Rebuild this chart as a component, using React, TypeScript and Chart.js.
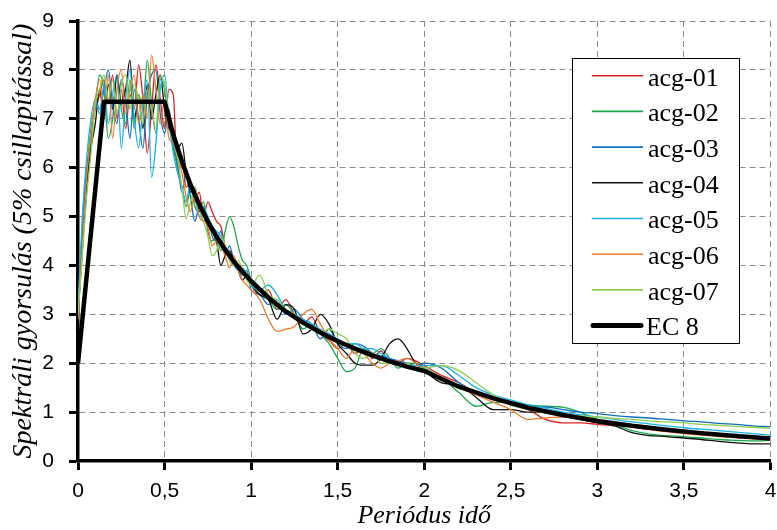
import React, { useEffect, useRef } from "react";
import { Chart, registerables } from "chart.js";

Chart.register(...registerables);

// Period values (s) at which the record spectra are sampled
const periods = [
  0, 0.025, 0.05, 0.075, 0.1, 0.125, 0.15, 0.175, 0.2, 0.225, 0.25, 0.275, 0.3, 0.325, 0.35, 0.375,
  0.4, 0.425, 0.45, 0.475, 0.5, 0.525, 0.55, 0.575, 0.6, 0.625, 0.65, 0.675, 0.7, 0.725, 0.75, 0.775,
  0.8, 0.825, 0.85, 0.875, 0.9, 0.925, 0.95, 0.975, 1.0,
  1.05, 1.1, 1.15, 1.2, 1.25, 1.3, 1.35, 1.4, 1.45, 1.5, 1.55, 1.6, 1.65, 1.7, 1.75, 1.8, 1.85, 1.9, 1.95, 2.0,
  2.1, 2.2, 2.3, 2.4, 2.5, 2.6, 2.7, 2.8, 2.9, 3.0, 3.1, 3.2, 3.3, 3.4, 3.5, 3.6, 3.7, 3.8, 3.9, 4.0,
];

const acg01 = [
  3.0, 4.3, 5.7, 6.6, 7.2, 7.5, 7.8, 7.3, 7.9, 7.0, 7.6, 6.8, 7.5, 7.2, 8.1, 7.4,
  6.3, 7.2, 8.1, 7.4, 6.8, 7.6, 7.5, 5.9, 6.2, 5.6, 5.7, 5.3, 5.5, 5.0, 5.3, 5.1,
  4.9, 4.8, 4.4, 4.2, 4.0, 4.0, 3.9, 3.8, 3.6,
  3.4, 3.5, 3.1, 3.3, 3.0, 2.8, 2.95, 2.6, 2.47, 2.3, 2.4, 2.2, 2.3, 2.1, 2.25, 2.0, 2.0, 2.1, 2.05, 1.95,
  1.75, 1.6, 1.4, 1.3, 1.15, 1.05, 0.85, 0.78, 0.78, 0.75, 0.72, 0.7, 0.65, 0.62, 0.58, 0.55, 0.52, 0.5, 0.48, 0.46,
];

const acg02 = [
  3.0, 4.5, 5.9, 6.8, 7.3, 7.9, 7.6, 6.6, 7.0, 7.9, 7.2, 6.9, 7.8, 6.8, 7.5, 7.2,
  8.2, 7.3, 6.7, 7.8, 7.6, 6.9, 6.4, 6.0, 5.6, 5.2, 5.6, 5.2, 5.1, 5.3, 4.7, 4.5,
  4.6, 4.3, 4.7, 5.0, 4.8, 4.4, 4.1, 4.0, 3.7,
  3.4, 3.3, 3.1, 3.2, 3.0, 2.7, 2.8, 2.6, 2.4, 2.1, 1.83, 1.9, 2.3, 2.2, 2.3, 2.1, 1.9, 2.0, 2.0, 1.9,
  1.7, 1.4, 1.12, 1.2, 1.2, 1.15, 1.12, 1.1, 1.0, 0.85, 0.75, 0.62, 0.55, 0.52, 0.5, 0.47, 0.44, 0.42, 0.41, 0.42,
];

const acg03 = [
  3.0, 4.8, 6.0, 6.5, 7.4, 7.2, 7.6, 8.0, 7.3, 6.9, 7.8, 7.4, 6.6, 7.6, 7.0, 6.4,
  7.5, 7.9, 8.0, 7.1, 6.7, 7.2, 6.5, 6.1, 5.5, 5.9, 5.4, 4.9, 5.2, 4.9, 5.0, 4.6,
  4.5, 4.7, 4.2, 4.4, 4.1, 3.9, 3.8, 3.9, 3.5,
  3.4, 3.2, 3.3, 3.0, 3.1, 2.9, 2.8, 2.5, 2.7, 2.4, 2.3, 2.4, 2.35, 2.2, 2.15, 2.1, 2.05, 2.0, 1.95, 2.0,
  1.9, 1.6, 1.4, 1.3, 1.2, 1.1, 1.1, 1.05, 1.0, 0.97, 0.93, 0.9, 0.88, 0.85, 0.82, 0.8, 0.77, 0.75, 0.72, 0.7,
];

const acg04 = [
  3.0, 4.4, 5.6, 6.4, 6.9, 7.6, 7.0, 7.7, 7.2, 7.9, 7.3, 7.6, 8.2, 7.0, 7.4, 6.8,
  7.7, 7.0, 7.5, 7.9, 7.2, 6.8, 6.7, 6.4, 6.5, 5.9, 5.5, 5.6, 5.1, 5.2, 4.8, 4.7,
  4.5, 4.0, 4.2, 4.3, 4.1, 3.9, 3.7, 3.8, 3.6,
  3.4, 3.3, 2.9, 3.2, 3.1, 2.6, 2.7, 3.0, 2.8, 2.4, 2.2, 2.0, 1.96, 1.96, 2.1, 2.4, 2.5, 2.3, 2.0, 1.85,
  1.6, 1.55, 1.3, 1.05, 1.05, 1.0, 1.0, 0.95, 0.85, 0.78, 0.72, 0.58, 0.52, 0.5, 0.47, 0.44, 0.4, 0.37, 0.35, 0.35,
];

const acg05 = [
  3.15, 5.0, 6.2, 7.0, 7.4, 7.1, 7.7, 6.9, 7.5, 7.9, 6.4, 7.4, 8.0, 7.0, 6.4, 7.3,
  7.8, 5.8, 6.5, 7.6, 7.9, 7.0, 6.3, 5.9, 5.6, 5.3, 5.7, 5.4, 5.0, 5.2, 5.0, 4.8,
  4.7, 4.6, 4.3, 4.2, 4.0, 3.9, 3.95, 3.8, 3.6,
  3.5, 3.6, 3.4, 3.1, 3.0, 2.9, 2.8, 2.7, 2.6, 2.5, 2.4, 2.4, 2.3, 2.3, 2.2, 2.1, 2.0, 1.95, 1.95, 1.95,
  1.95, 1.75, 1.5, 1.35, 1.25, 1.15, 1.08, 1.0, 0.95, 0.9, 0.85, 0.8, 0.76, 0.72, 0.68, 0.65, 0.62, 0.59, 0.56, 0.53,
];

const acg06 = [
  2.9, 4.4, 5.8, 6.7, 7.4, 7.8, 7.0, 7.9, 6.6, 7.6, 8.0, 7.1, 7.6, 7.9, 6.9, 7.5,
  7.0, 8.3, 7.6, 6.9, 7.4, 6.6, 6.5, 6.2, 5.9, 5.4, 5.1, 5.5, 5.0, 4.9, 4.8, 4.4,
  4.5, 4.4, 4.2, 3.95, 4.2, 3.9, 3.7, 3.6, 3.5,
  3.3, 2.9, 2.65, 2.7, 2.75, 3.0, 3.1, 2.8, 2.5, 2.3, 2.1, 2.3, 2.2, 2.0, 1.9, 2.0, 2.05, 2.1, 2.0, 1.85,
  1.65, 1.5, 1.35, 1.2, 1.05, 0.85, 0.88, 0.9, 0.87, 0.82, 0.76, 0.7, 0.64, 0.6, 0.56, 0.53, 0.5, 0.48, 0.46, 0.45,
];

const acg07 = [
  3.0, 4.2, 5.4, 6.3, 7.3, 7.6, 7.9, 7.4, 7.8, 7.1, 7.7, 7.9, 7.2, 7.7, 7.4, 6.9,
  7.6, 7.2, 6.8, 7.9, 7.7, 7.1, 6.7, 6.2, 5.6, 4.95, 5.3, 5.6, 5.2, 4.9, 4.6, 4.2,
  4.3, 4.6, 4.4, 4.1, 4.0, 4.1, 3.9, 3.7, 3.6,
  3.8, 3.4, 3.3, 3.1, 3.0, 2.8, 2.7, 2.6, 2.7, 2.6, 2.5, 2.2, 2.1, 2.2, 2.0, 2.0, 1.95, 2.0, 1.9, 1.9,
  1.95, 1.85, 1.6, 1.35, 1.15, 1.05, 0.98, 0.95, 0.92, 0.9, 0.87, 0.85, 0.82, 0.8, 0.78, 0.75, 0.73, 0.71, 0.69, 0.67,
];

// EC 8 design spectrum
const ec8Periods = [
  0, 0.15, 0.5, 0.55, 0.6, 0.65, 0.7, 0.75, 0.8, 0.85, 0.9, 0.95, 1.0,
  1.1, 1.2, 1.3, 1.4, 1.5, 1.6, 1.7, 1.8, 1.9, 2.0,
  2.2, 2.4, 2.6, 2.8, 3.0, 3.2, 3.4, 3.6, 3.8, 4.0,
];
const ec8Values = [
  2.0, 7.35, 7.35, 6.68, 6.13, 5.65, 5.25, 4.9, 4.59, 4.32, 4.08, 3.87, 3.68,
  3.34, 3.06, 2.83, 2.63, 2.45, 2.3, 2.16, 2.04, 1.93, 1.84,
  1.52, 1.28, 1.09, 0.94, 0.82, 0.72, 0.64, 0.57, 0.51, 0.46,
];

const seriesNames = ["acg-01", "acg-02", "acg-03", "acg-04", "acg-05", "acg-06", "acg-07", "EC 8"];
const seriesColors = ["#dd2222", "#1aa84a", "#0e6fc1", "#111111", "#18b2ee", "#ed7d31", "#90cf4e", "#000000"];
const recordValues = [acg01, acg02, acg03, acg04, acg05, acg06, acg07];

const xTickLabels = ["0", "0,5", "1", "1,5", "2", "2,5", "3", "3,5", "4"];
const yTickLabels = ["0", "1", "2", "3", "4", "5", "6", "7", "8", "9"];

const xTitle = "Periódus idő";
const yTitle = "Spektráli gyorsulás (5% csillapítással)";

const legendPlugin = {
  id: "boxLegend",
  afterDraw(chart: any) {
    const ctx = chart.ctx as CanvasRenderingContext2D;
    const bx = 572.5, by = 58.5, bw = 167, bh = 285;
    ctx.save();
    ctx.fillStyle = "#ffffff";
    ctx.fillRect(bx, by, bw, bh);
    ctx.strokeStyle = "#000000";
    ctx.lineWidth = 1;
    ctx.strokeRect(bx, by, bw, bh);
    ctx.font = "26px 'Liberation Serif'";
    ctx.textBaseline = "alphabetic";
    ctx.textAlign = "left";
    seriesNames.forEach((name, i) => {
      const y = 75.7 + i * 35.7;
      const isEc = i === seriesNames.length - 1;
      ctx.beginPath();
      ctx.strokeStyle = seriesColors[i];
      ctx.lineWidth = isEc ? 5 : 1.6;
      ctx.lineCap = isEc ? "round" : "butt";
      ctx.moveTo(isEc ? 593 : 592, y);
      ctx.lineTo(isEc ? 641 : 643, y);
      ctx.stroke();
      ctx.fillStyle = "#000000";
      ctx.fillText(name, isEc ? 646 : 648, y + 9.8);
    });
    ctx.restore();
  },
};

export default function App() {
  const canvasRef = useRef<HTMLCanvasElement | null>(null);

  useEffect(() => {
    document.body.style.margin = "0";
    const canvas = canvasRef.current;
    if (!canvas) return;

    const datasets: any[] = recordValues.map((vals, i) => ({
      label: seriesNames[i],
      data: periods.map((p, j) => ({ x: p, y: vals[j] })),
      borderColor: seriesColors[i],
      backgroundColor: seriesColors[i],
      borderWidth: 1.3,
      pointRadius: 0,
      fill: false,
      cubicInterpolationMode: "monotone",
      order: 7 - i,
    }));
    datasets.push({
      label: seriesNames[7],
      data: ec8Periods.map((p, j) => ({ x: p, y: ec8Values[j] })),
      borderColor: "#000000",
      backgroundColor: "#000000",
      borderWidth: 4.5,
      pointRadius: 0,
      fill: false,
      tension: 0,
      borderJoinStyle: "round",
      order: -1,
    });

    const tickFont = { family: "'Liberation Sans', Arial, sans-serif", size: 21 };
    const xTitleFont = { family: "'Liberation Serif', 'Times New Roman', serif", size: 26, style: "italic" as const, lineHeight: 1 };
    const yTitleFont = { family: "'Liberation Serif', 'Times New Roman', serif", size: 28, style: "italic" as const, lineHeight: 1 };

    const chart = new Chart(canvas, {
      type: "line",
      data: { datasets },
      plugins: [legendPlugin],
      options: {
        animation: false,
        responsive: false,
        devicePixelRatio: 1,
        layout: { autoPadding: false, padding: { top: 21, right: 6.5, left: 0, bottom: 0 } },
        plugins: { legend: { display: false }, tooltip: { enabled: false } },
        scales: {
          x: {
            type: "linear",
            min: 0,
            max: 4,
            ticks: {
              stepSize: 0.5,
              autoSkip: false,
              maxRotation: 0,
              color: "#000000",
              font: tickFont,
              padding: 9,
              callback: (_v: any, i: number) => xTickLabels[i],
            },
            grid: {
              color: "#8c8c8c",
              lineWidth: 1,
              tickColor: "#000000",
              tickWidth: 3,
              tickLength: 9,
              tickBorderDash: [],
            },
            border: { color: "#000000", width: 3.5, dash: [6, 4] },
            title: { display: true, text: xTitle, color: "#000000", font: xTitleFont, padding: { top: 0, bottom: 1 } },
            afterFit: (s: any) => {
              s.height = 69;
              s.paddingLeft = 0;
              s.paddingRight = 0;
            },
          },
          y: {
            type: "linear",
            min: 0,
            max: 9,
            ticks: {
              stepSize: 1,
              autoSkip: false,
              color: "#000000",
              font: tickFont,
              padding: 15,
              callback: (_v: any, i: number) => yTickLabels[i],
            },
            grid: {
              color: "#8c8c8c",
              lineWidth: 1,
              tickColor: "#000000",
              tickWidth: 3,
              tickLength: 9,
              tickBorderDash: [],
            },
            border: { color: "#000000", width: 3.5, dash: [6, 4] },
            title: { display: true, text: yTitle, color: "#000000", font: yTitleFont, padding: { top: 9.5, bottom: 0 } },
            afterFit: (s: any) => {
              s.width = 78;
              s.paddingTop = 0;
              s.paddingBottom = 0;
            },
          },
        },
      } as any,
    });

    return () => chart.destroy();
  }, []);

  return (
    <div style={{ width: 777, height: 530, background: "#ffffff" }}>
      <canvas ref={canvasRef} width={777} height={530} style={{ display: "block" }} />
    </div>
  );
}
